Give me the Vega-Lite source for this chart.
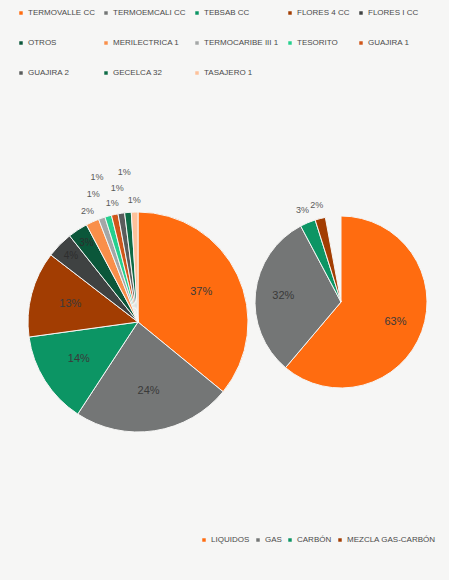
{
  "$schema": "https://vega.github.io/schema/vega-lite/v6.json",
  "width": 449,
  "height": 580,
  "autosize": {"type": "none"},
  "padding": 0,
  "background": "#f6f6f5",
  "config": {
    "view": {"stroke": null},
    "font": "Liberation Sans, Arial, sans-serif",
    "legend": {
      "labelFont": "Liberation Sans, Arial, sans-serif",
      "labelColor": "#4a4a4a",
      "labelFontSize": 8,
      "symbolType": "square",
      "symbolSize": 12,
      "symbolStrokeWidth": 0,
      "labelOffset": 3
    }
  },
  "datasets": {
    "plantas": [
      {"grafico": "plantas", "orden": 1, "planta": "TERMOVALLE CC", "valor": 0.37},
      {"grafico": "plantas", "orden": 2, "planta": "TERMOEMCALI CC", "valor": 0.24},
      {"grafico": "plantas", "orden": 3, "planta": "TEBSAB CC", "valor": 0.14},
      {"grafico": "plantas", "orden": 4, "planta": "FLORES 4 CC", "valor": 0.13},
      {"grafico": "plantas", "orden": 5, "planta": "FLORES I CC", "valor": 0.04},
      {"grafico": "plantas", "orden": 6, "planta": "OTROS", "valor": 0.03},
      {"grafico": "plantas", "orden": 7, "planta": "MERILECTRICA 1", "valor": 0.02},
      {"grafico": "plantas", "orden": 8, "planta": "TERMOCARIBE III 1", "valor": 0.01},
      {"grafico": "plantas", "orden": 9, "planta": "TESORITO", "valor": 0.01},
      {"grafico": "plantas", "orden": 10, "planta": "GUAJIRA 1", "valor": 0.01},
      {"grafico": "plantas", "orden": 11, "planta": "GUAJIRA 2", "valor": 0.01},
      {"grafico": "plantas", "orden": 12, "planta": "GECELCA 32", "valor": 0.01},
      {"grafico": "plantas", "orden": 13, "planta": "TASAJERO 1", "valor": 0.01}
    ],
    "tipos": [
      {"grafico": "tipos", "orden": 1, "tipo": "LIQUIDOS", "valor": 0.63},
      {"grafico": "tipos", "orden": 2, "tipo": "GAS", "valor": 0.32},
      {"grafico": "tipos", "orden": 3, "tipo": "CARBÓN", "valor": 0.03},
      {"grafico": "tipos", "orden": 4, "tipo": "MEZCLA GAS-CARBÓN", "valor": 0.02}
    ]
  },
  "layer": [
    {
      "data": {"name": "plantas"},
      "encoding": {
        "x": {"field": "grafico", "type": "nominal", "axis": null,
              "scale": {"type": "point", "domain": ["plantas", "tipos"], "range": [138, 341], "padding": 0}},
        "y": {"field": "grafico", "type": "nominal", "axis": null,
              "scale": {"type": "point", "domain": ["plantas", "tipos"], "range": [322, 302], "padding": 0}},
        "theta": {"field": "valor", "type": "quantitative", "stack": true},
        "order": {"field": "orden", "type": "quantitative"}
      },
      "layer": [
        {
          "mark": {"type": "arc", "radius": 110, "stroke": "#f6f6f5", "strokeWidth": 1},
          "encoding": {
            "color": {
              "field": "planta", "type": "nominal",
              "scale": {
                "domain": ["TERMOVALLE CC", "TERMOEMCALI CC", "TEBSAB CC", "FLORES 4 CC", "FLORES I CC", "OTROS", "MERILECTRICA 1", "TERMOCARIBE III 1", "TESORITO", "GUAJIRA 1", "GUAJIRA 2", "GECELCA 32", "TASAJERO 1"],
                "range": ["#ff6c10", "#747676", "#0c9564", "#a23d02", "#3f4242", "#0b573a", "#f98f4a", "#a4a7a7", "#25d08e", "#d0561a", "#5a5c5c", "#0e6c46", "#fdc19a"]
              },
              "legend": {
                "title": null, "orient": "none", "legendX": 17, "legendY": 9,
                "direction": "horizontal", "columns": 5, "rowPadding": 22, "columnPadding": 7
              }
            }
          }
        },
        {
          "mark": {"type": "text", "radius": 70, "fontSize": 11, "fill": "#3a3a3a"},
          "encoding": {
            "text": {"condition": {"test": "datum.valor >= 0.1", "field": "valor", "type": "quantitative", "format": ".0%"}, "value": ""}
          }
        },
        {
          "mark": {"type": "text", "radius": 94, "fontSize": 10, "fill": "#2e2e2e"},
          "encoding": {
            "text": {"condition": {"test": "datum.valor >= 0.03 && datum.valor < 0.1", "field": "valor", "type": "quantitative", "format": ".0%"}, "value": ""}
          }
        },
        {
          "mark": {"type": "text", "radius": 122, "fontSize": 9, "fill": "#595959"},
          "encoding": {
            "text": {"condition": {"test": "indexof(['MERILECTRICA 1', 'GUAJIRA 1', 'TASAJERO 1'], datum.planta) >= 0", "field": "valor", "type": "quantitative", "format": ".0%"}, "value": ""}
          }
        },
        {
          "mark": {"type": "text", "radius": 136, "fontSize": 9, "fill": "#595959"},
          "encoding": {
            "text": {"condition": {"test": "indexof(['TERMOCARIBE III 1', 'GUAJIRA 2'], datum.planta) >= 0", "field": "valor", "type": "quantitative", "format": ".0%"}, "value": ""}
          }
        },
        {
          "mark": {"type": "text", "radius": 151, "fontSize": 9, "fill": "#595959"},
          "encoding": {
            "text": {"condition": {"test": "indexof(['TESORITO', 'GECELCA 32'], datum.planta) >= 0", "field": "valor", "type": "quantitative", "format": ".0%"}, "value": ""}
          }
        }
      ]
    },
    {
      "data": {"name": "tipos"},
      "encoding": {
        "x": {"field": "grafico", "type": "nominal", "axis": null},
        "y": {"field": "grafico", "type": "nominal", "axis": null},
        "theta": {"field": "valor", "type": "quantitative", "stack": true},
        "order": {"field": "orden", "type": "quantitative"}
      },
      "layer": [
        {
          "mark": {"type": "arc", "radius": 86, "stroke": "#f6f6f5", "strokeWidth": 1},
          "encoding": {
            "color": {
              "field": "tipo", "type": "nominal",
              "scale": {
                "domain": ["LIQUIDOS", "GAS", "CARBÓN", "MEZCLA GAS-CARBÓN"],
                "range": ["#ff6c10", "#747676", "#0c9564", "#a23d02"]
              },
              "legend": {
                "title": null, "orient": "none", "legendX": 200, "legendY": 536,
                "direction": "horizontal", "columns": 4, "columnPadding": 4
              }
            }
          }
        },
        {
          "mark": {"type": "text", "radius": 58, "fontSize": 11, "fill": "#3a3a3a"},
          "encoding": {
            "text": {"condition": {"test": "datum.valor >= 0.1", "field": "valor", "type": "quantitative", "format": ".0%"}, "value": ""}
          }
        },
        {
          "mark": {"type": "text", "radius": 100, "fontSize": 9, "fill": "#595959"},
          "encoding": {
            "text": {"condition": {"test": "datum.valor < 0.1", "field": "valor", "type": "quantitative", "format": ".0%"}, "value": ""}
          }
        }
      ]
    }
  ],
  "resolve": {"scale": {"color": "independent"}, "legend": {"color": "independent"}}
}
